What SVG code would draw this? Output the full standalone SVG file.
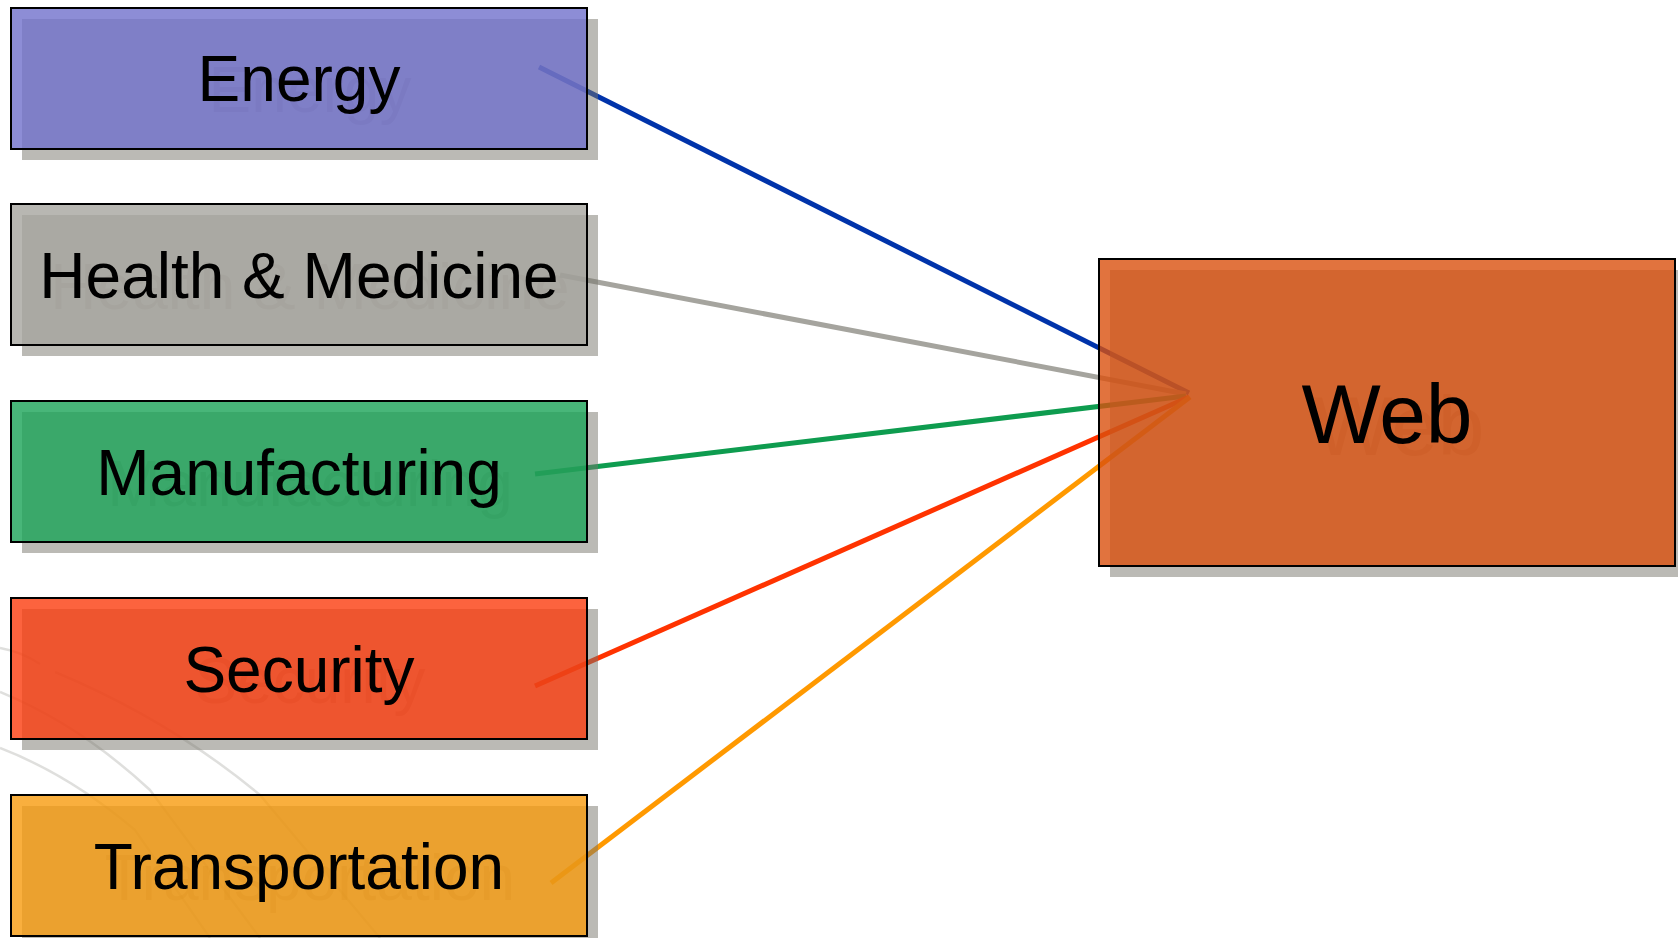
<svg xmlns="http://www.w3.org/2000/svg" width="1678" height="938" viewBox="0 0 1678 938">
<style>
.bg{fill:#ffffff}
.faint{fill:none;stroke:#b8b8b4;stroke-width:2.5;stroke-opacity:0.45}
.edge{fill:none;stroke-width:5;stroke-linecap:butt}
.sh{fill:#77756b;fill-opacity:0.5}
.box{fill-opacity:0.8;stroke:#000;stroke-width:2}
.lbl{font-family:"Liberation Sans",Arial,sans-serif;font-size:64px;text-anchor:middle;fill:#000}
.shl{font-family:"Liberation Sans",Arial,sans-serif;font-size:64px;text-anchor:middle;fill:#77756b;fill-opacity:0.35}
.big{font-size:84px}
</style>
<rect class="bg" x="0" y="0" width="1678" height="938"/>
<g id="background-curves">
<path class="faint" d="M0,648 Q22,652 40,664"/>
<path class="faint" d="M0,692 Q80,725 150,790 L260,938"/>
<path class="faint" d="M0,748 Q70,775 135,830 L210,938"/>
<path class="faint" d="M55,672 Q170,720 260,795 L380,938"/>
</g>
<g id="connectors">
<line class="edge" stroke="#0033aa" x1="539" y1="67" x2="1189" y2="393"/>
<line class="edge" stroke="#a5a49e" x1="560" y1="275" x2="1186" y2="394"/>
<line class="edge" stroke="#0e9c4f" x1="535" y1="474" x2="1186" y2="396"/>
<line class="edge" stroke="#ff3300" x1="535" y1="686" x2="1189" y2="397"/>
<line class="edge" stroke="#ff9900" x1="551" y1="883" x2="1190" y2="397"/>
</g>
<g id="node-energy">
<rect class="sh" x="22" y="19" width="576" height="141"/>
<text class="shl" x="310" y="112">Energy</text>
<rect class="box" fill="#7070cc" x="11" y="8" width="576" height="141"/>
<text class="lbl" x="299" y="101">Energy</text>
</g>
<g id="node-health">
<rect class="sh" x="22" y="215" width="576" height="141"/>
<text class="shl" x="310" y="309">Health &amp; Medicine</text>
<rect class="box" fill="#a6a59f" x="11" y="204" width="576" height="141"/>
<text class="lbl" x="299" y="298">Health &amp; Medicine</text>
</g>
<g id="node-manufacturing">
<rect class="sh" x="22" y="412" width="576" height="141"/>
<text class="shl" x="310" y="506">Manufacturing</text>
<rect class="box" fill="#1aa458" x="11" y="401" width="576" height="141"/>
<text class="lbl" x="299" y="495">Manufacturing</text>
</g>
<g id="node-security">
<rect class="sh" x="22" y="609" width="576" height="141"/>
<text class="shl" x="310" y="703">Security</text>
<rect class="box" fill="#fb3c0e" x="11" y="598" width="576" height="141"/>
<text class="lbl" x="299" y="692">Security</text>
</g>
<g id="node-transportation">
<rect class="sh" x="22" y="806" width="576" height="141"/>
<text class="shl" x="310" y="900">Transportation</text>
<rect class="box" fill="#f89b0e" x="11" y="795" width="576" height="141"/>
<text class="lbl" x="299" y="889">Transportation</text>
</g>
<g id="node-web">
<rect class="sh" x="1110" y="270" width="576" height="307"/>
<text class="shl big" x="1399" y="455">Web</text>
<rect class="box" fill="#da500e" x="1099" y="259" width="576" height="307"/>
<text class="lbl big" x="1387" y="443">Web</text>
</g>
</svg>
